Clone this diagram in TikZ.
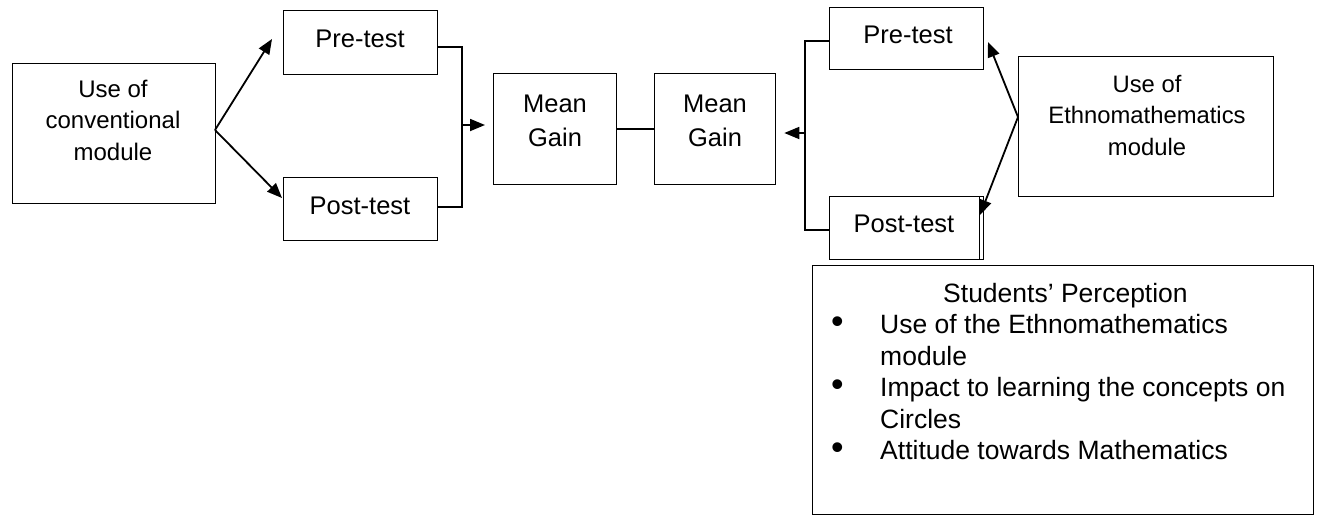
\documentclass[tikz,border=0pt]{standalone}
\usepackage{fontspec}
\setmainfont{Liberation Sans}
\usetikzlibrary{arrows.meta}
\begin{document}
\begin{tikzpicture}[x=1pt,y=-1pt,
  box/.style={draw, line width=1.3pt, inner sep=0pt, anchor=north west},
  lbl/.style={align=center, inner sep=0pt, font=\fontsize{25.5}{34}\selectfont},
  arr/.style={line width=1.8pt, -{Triangle[length=15pt,width=12pt]}},
  link/.style={line width=1.3pt},
  bul/.style={}]
\useasboundingbox (0,0) rectangle (1321,515);
% left side
\node[box, minimum width=203pt, minimum height=140pt] (conv) at (12,63) {};
\node[lbl, font=\fontsize{24}{31.5}\selectfont] (convt) at (113,120) {Use of\\conventional\\module};
\node[box, minimum width=154pt, minimum height=64pt] (preL) at (283,10) {};
\node[lbl] (preLt) at (360,39) {Pre-test};
\node[box, minimum width=154pt, minimum height=63pt] (postL) at (283,177) {};
\node[lbl] (postLt) at (360,206) {Post-test};
% mean gain
\node[box, minimum width=123pt, minimum height=111pt] (mg1) at (493,73) {};
\node[lbl] (mg1t) at (555,121) {Mean\\Gain};
\node[box, minimum width=121pt, minimum height=111pt] (mg2) at (654,73) {};
\node[lbl] (mg2t) at (715,121) {Mean\\Gain};
% right side
\node[box, minimum width=154pt, minimum height=62pt] (preR) at (829,7) {};
\node[lbl] (preRt) at (908,35) {Pre-test};
\node[box, minimum width=154pt, minimum height=63pt] (postR) at (829,196) {};
\node[lbl] (postRt) at (904,224) {Post-test};
\draw[link] ([xshift=-5pt]postR.north east) -- ([xshift=-5pt]postR.south east);
\node[box, minimum width=255pt, minimum height=140pt] (ethno) at (1018,56) {};
\node[lbl, font=\fontsize{23.8}{31.5}\selectfont] (ethnot) at (1147,115) {Use of\\Ethnomathematics\\module};
% students' perception
\node[box, minimum width=501pt, minimum height=249pt] (stud) at (812,265) {};
\node[inner sep=0pt, anchor=north west, font=\fontsize{26.5}{31.5}\selectfont] (studt) at (831,283) {%
  \begin{minipage}{470pt}
  \hspace*{112pt}Students’ Perception\\
  \makebox[49pt][l]{\raisebox{0.02em}{\scalebox{1.35}{\textbullet}}}Use of the Ethnomathematics\\
  \hspace*{49pt}module\\
  \makebox[49pt][l]{\raisebox{0.02em}{\scalebox{1.35}{\textbullet}}}Impact to learning the concepts on\\
  \hspace*{49pt}Circles\\
  \makebox[49pt][l]{\raisebox{0.02em}{\scalebox{1.35}{\textbullet}}}Attitude towards Mathematics
  \end{minipage}};
% coordinates
\coordinate (cv) at (215,130);
\coordinate (tipPreL) at (272,39);
\coordinate (tipPostL) at (282,198);
\coordinate (bL1) at (462,47);
\coordinate (bL2) at (462,207);
\coordinate (bLm) at (462,125);
\coordinate (bR1) at (805,41);
\coordinate (bR2) at (805,230);
\coordinate (bRm) at (805,133);
\coordinate (ev) at (1018,117);
\coordinate (tipPreR) at (988,42);
\coordinate (tipPostR) at (980,215);
% connectors
\draw[arr] (cv) -- (tipPreL);
\draw[arr] (cv) -- (tipPostL);
\draw[link] (preL.east |- bL1) -- (bL1) -- (bL2) -- (postL.east |- bL2);
\draw[arr] (bLm) -- ([xshift=-8pt]mg1.west |- bLm);
\draw[link] (mg1.east |- 0,129) -- (mg2.west |- 0,129);
\draw[link] (preR.west |- bR1) -- (bR1) -- (bR2) -- (postR.west |- bR2);
\draw[arr] (bRm) -- ([xshift=8pt]mg2.east |- bRm);
\draw[arr] (ev) -- (tipPreR);
\draw[arr] (ev) -- (tipPostR);
\end{tikzpicture}
\end{document}
